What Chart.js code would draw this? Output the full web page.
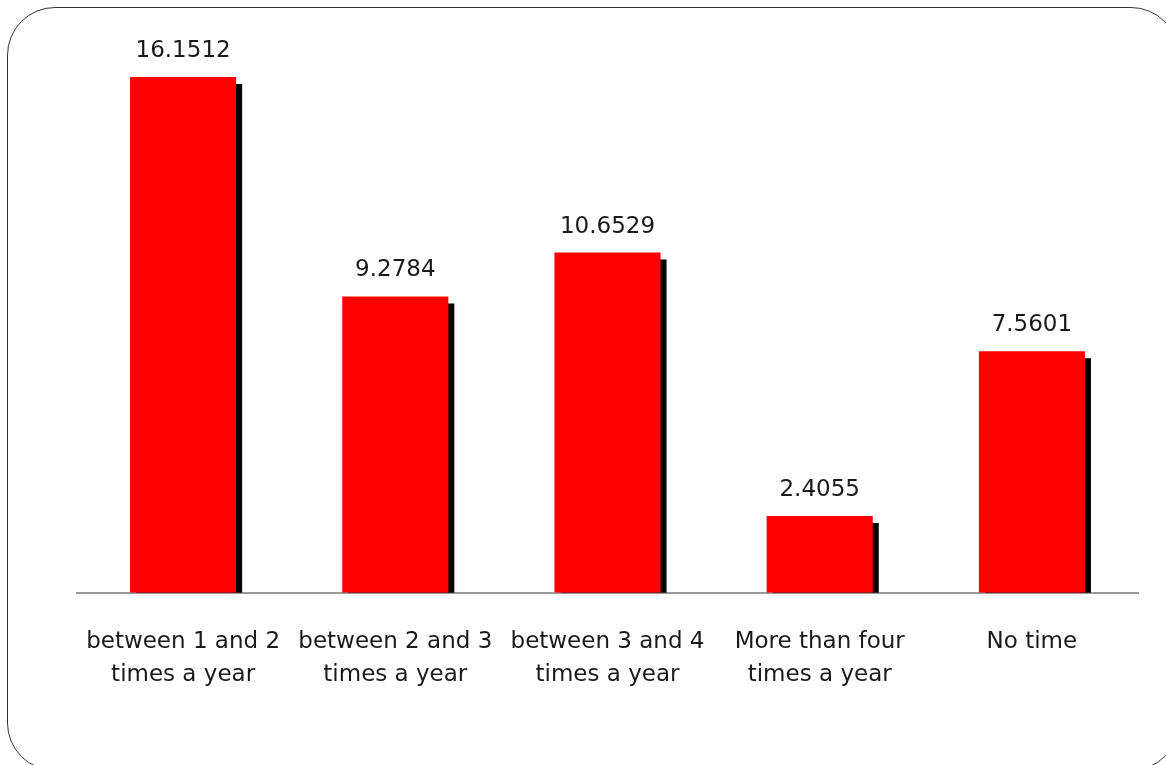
<!DOCTYPE html>
<html>
<head>
<meta charset="utf-8">
<script src="https://cdn.jsdelivr.net/npm/chart.js@4/dist/chart.umd.min.js"></script>
<style>
  html, body { margin: 0; padding: 0; background: #fff; overflow: hidden; }
  #wrap { position: relative; width: 1166px; height: 765px; overflow: hidden; }
  #frame { position: absolute; left: 7px; top: 7px; width: 1172px; height: 764px;
           border: 1.5px solid #333; border-radius: 48px; box-sizing: border-box; }
  canvas { position: absolute; left: 0; top: 0; }
</style>
</head>
<body>
<div id="wrap">
  <div id="frame"></div>
  <canvas id="c" width="1166" height="765"></canvas>
</div>
<script>
const categories = [
  ['between 1 and 2', 'times a year'],
  ['between 2 and 3', 'times a year'],
  ['between 3 and 4', 'times a year'],
  ['More than four', 'times a year'],
  ['No time']
];
const values = [16.1512, 9.2784, 10.6529, 2.4055, 7.5601];

const shadowPlugin = {
  id: 'barShadow',
  beforeDatasetDraw(chart) {
    const ctx = chart.ctx;
    ctx.save();
    ctx.shadowColor = '#000';
    ctx.shadowOffsetX = 6;
    ctx.shadowOffsetY = 7;
    ctx.shadowBlur = 0;
  },
  afterDatasetDraw(chart) {
    chart.ctx.restore();
  }
};

const labelPlugin = {
  id: 'valueLabels',
  afterDatasetsDraw(chart) {
    const ctx = chart.ctx;
    const meta = chart.getDatasetMeta(0);
    ctx.save();
    ctx.font = '23px "DejaVu Sans"';
    ctx.fillStyle = '#1a1a1a';
    ctx.textAlign = 'center';
    ctx.textBaseline = 'alphabetic';
    meta.data.forEach((bar, i) => {
      ctx.fillText(values[i].toFixed(4), bar.x, bar.y - 20);
    });
    ctx.restore();
  }
};

new Chart(document.getElementById('c'), {
  type: 'bar',
  data: {
    labels: categories,
    datasets: [{
      data: values,
      backgroundColor: '#ff0000',
      borderWidth: 0,
      barPercentage: 0.5,
      categoryPercentage: 1.0
    }]
  },
  options: {
    responsive: false,
    animation: false,
    devicePixelRatio: 1,
    layout: { padding: { top: 18, bottom: 40.5, left: 77, right: 28 } },
    plugins: { legend: { display: false }, tooltip: { enabled: false } },
    scales: {
      x: {
        grid: { display: false, drawTicks: false },
        border: { display: true, color: '#9a9a9a', width: 2 },
        ticks: {
          color: '#1a1a1a',
          font: { family: 'DejaVu Sans', size: 23, lineHeight: 1.43 },
          padding: 33,
          maxRotation: 0,
          autoSkip: false
        }
      },
      y: {
        display: false,
        min: 0,
        max: 18
      }
    }
  },
  plugins: [shadowPlugin, labelPlugin]
});
</script>
</body>
</html>
